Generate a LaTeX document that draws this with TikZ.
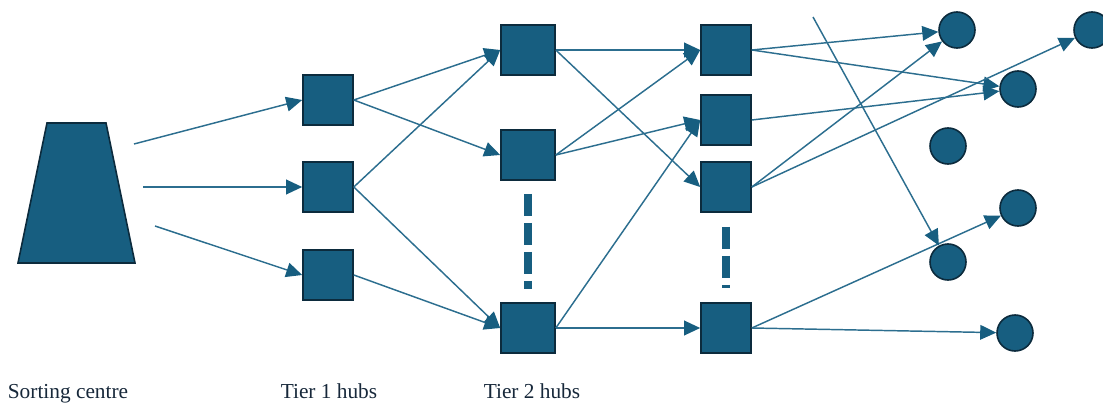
\documentclass[tikz,border=0pt]{standalone}
\usepackage{fontspec}
\setmainfont{Liberation Serif}
\usetikzlibrary{arrows.meta, positioning}
\definecolor{hubfill}{HTML}{175E80}
\definecolor{hubline}{HTML}{0C2B3D}
\definecolor{flowline}{HTML}{2C6E8F}
\definecolor{labeltext}{HTML}{17283A}
\tikzset{
  >={Triangle[length=12pt, width=11pt, color=hubfill]},
  sc flow/.style={draw=flowline, ->, line width=1.1pt},
  sc centre/.style={draw=hubline, fill=hubfill, line width=1.2pt, line join=miter},
  sc hub/.style={draw=hubline, fill=hubfill, rectangle, minimum size=37.5pt,
    inner sep=0pt, line width=1.2pt},
  sc dest/.style={draw=hubline, fill=hubfill, circle, minimum size=27pt,
    inner sep=0pt, line width=1.2pt},
  sc gap/.style={draw=hubfill, line width=5.5pt, dash pattern=on 16.5pt off 5.25pt},
  sc label/.style={text=labeltext, font=\fontsize{16}{18}\selectfont, anchor=base},
}

\begin{document}
\begin{tikzpicture}[x=0.75pt, y=-0.75pt]
 \useasboundingbox (0,0) rectangle (1103,403);
 % sorting centre and its outgoing flows
 \draw[sc centre] (47,123) -- (106,123) -- (135,263) -- (18,263) -- cycle;
 \coordinate (src1) at (134,144);
 \coordinate (src2) at (143,187);
 \coordinate (src3) at (155,226);
 % tier 1 hubs
 \node[sc hub] (t1a) at (328,100) {};
 \node[sc hub] (t1b) at (328,187) {};
 \node[sc hub] (t1c) at (328,275) {};
 % tier 2 hubs
 \node[sc hub, minimum width=40.5pt] (t2a) at (528,50) {};
 \node[sc hub, minimum width=40.5pt] (t2b) at (528,155) {};
 \node[sc hub, minimum width=40.5pt] (t2c) at (528,328) {};
 % tier 3 hubs
 \node[sc hub] (t3a) at (726,50) {};
 \node[sc hub] (t3b) at (726,120) {};
 \node[sc hub] (t3c) at (726,187) {};
 \node[sc hub] (t3d) at (726,328) {};
 % delivery points
 \node[sc dest] (cust0) at (1092,30) {};
 \node[sc dest] (cust1) at (957,30) {};
 \node[sc dest] (cust2) at (1018,89) {};
 \node[sc dest] (cust3) at (948,146) {};
 \node[sc dest] (cust4) at (1018,208) {};
 \node[sc dest] (cust5) at (948,262) {};
 \node[sc dest] (cust6) at (1015,333) {};
 \coordinate (stray) at (813,17);
 % omitted hubs
 \draw[sc gap] ([yshift=-13*0.75pt]t2b.south) -- ([yshift=13*0.75pt]t2c.north);
 \draw[sc gap] ([yshift=-14*0.75pt]t3c.south) -- ([yshift=14*0.75pt]t3d.north);
 % flows
 \draw[sc flow] (src1) -- (t1a.west);
 \draw[sc flow] (src2) -- (t1b.west);
 \draw[sc flow] (src3) -- (t1c.west);
 \draw[sc flow] (t1a.east) -- (t2a.west);
 \draw[sc flow] (t1a.east) -- (t2b.west);
 \draw[sc flow] (t1b.east) -- (t2a.west);
 \draw[sc flow] (t1b.east) -- (t2c.west);
 \draw[sc flow] (t1c.east) -- (t2c.west);
 \draw[sc flow] (t2a.east) -- (t3a.west);
 \draw[sc flow] (t2a.east) -- (t3c.west);
 \draw[sc flow] (t2b.east) -- (t3a.west);
 \draw[sc flow] (t2b.east) -- (t3b.west);
 \draw[sc flow] (t2c.east) -- (t3b.west);
 \draw[sc flow] (t2c.east) -- (t3d.west);
 \draw[sc flow] (t3a.east) -- (cust1);
 \draw[sc flow] (t3a.east) -- (cust2);
 \draw[sc flow] (t3b.east) -- (cust2);
 \draw[sc flow] (t3c.east) -- (cust1);
 \draw[sc flow] (t3c.east) -- (cust0);
 \draw[sc flow] (t3d.east) -- (cust4);
 \draw[sc flow] (t3d.east) -- (cust6);
 \draw[sc flow] (stray) -- (cust5);
 % tier captions
 \node[sc label] (cap-sc) at (68,398) {Sorting centre};
 \node[sc label] (cap-t1) at (329,398) {Tier 1 hubs};
 \node[sc label] (cap-t2) at (532,398) {Tier 2 hubs};
\end{tikzpicture}
\end{document}
